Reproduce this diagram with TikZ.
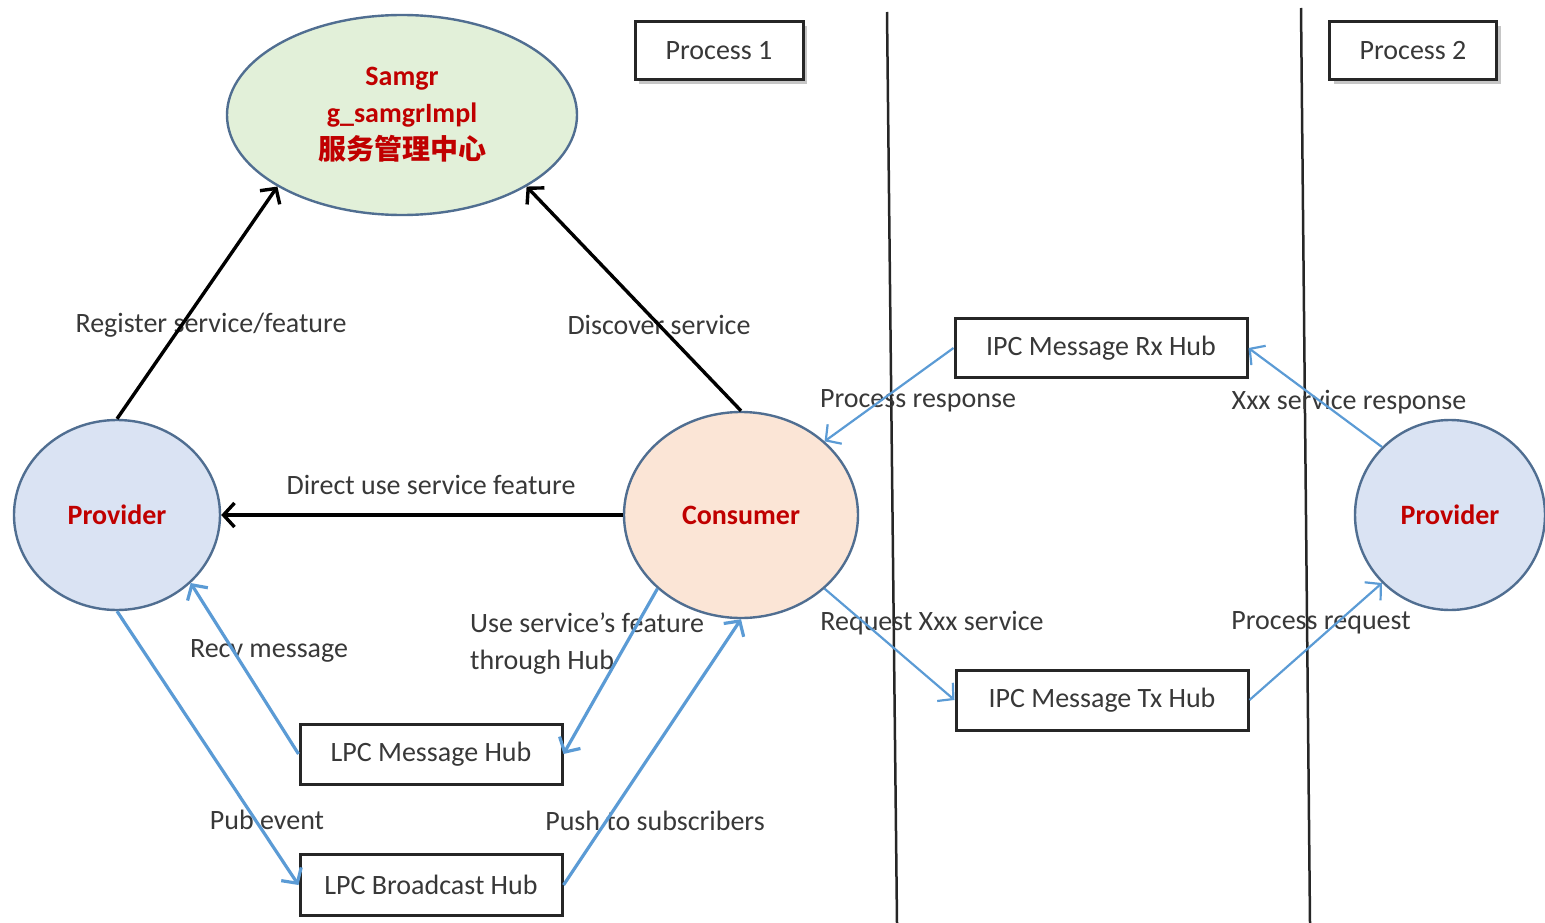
\documentclass[tikz,border=0pt]{standalone}
\usepackage{fontspec}
\setmainfont{Carlito}
\newfontfamily\cjk{Noto Sans CJK SC}
\usetikzlibrary{arrows.meta,shapes.geometric,shadows}
\definecolor{redtxt}{RGB}{192,0,0}
\definecolor{labtxt}{RGB}{56,56,56}
\definecolor{bluel}{RGB}{91,155,213}
\definecolor{edgec}{RGB}{80,110,145}
\definecolor{greenf}{RGB}{226,240,217}
\definecolor{bluef}{RGB}{218,227,243}
\definecolor{orangef}{RGB}{251,229,214}
\tikzset{
  bigfont/.style={font=\fontsize{28}{37}\selectfont},
  ell/.style={ellipse, draw=edgec, line width=2.4pt, inner sep=0pt, bigfont, text=redtxt, align=center},
  hub/.style={rectangle, draw=black!85, line width=3pt, inner sep=0pt, bigfont, text=labtxt},
  procbox/.style={hub, fill=white, drop shadow={shadow xshift=4pt, shadow yshift=-4pt, opacity=0.45}},
  lab/.style={bigfont, text=labtxt, inner sep=0pt},
  blk/.style={line width=3.4pt, black, -{Straight Barb[length=11pt,width=24pt,line width=3.4pt]}},
  blu/.style={line width=3.2pt, bluel, -{Straight Barb[length=11pt,width=24pt,line width=3.2pt]}},
  blut/.style={line width=2.2pt, bluel, -{Straight Barb[length=11pt,width=24pt,line width=2.2pt]}},
  sep/.style={line width=2.5pt, black!85}
}
\begin{document}
\begin{tikzpicture}[x=1pt,y=-1pt]
\useasboundingbox (0,0) rectangle (1545,923);
\clip (0,0) rectangle (1545,923);
% separators
\draw[sep] (887,12) -- (897,923);
\draw[sep] (1301,8) -- (1310,923);
% labels
\node[lab] (l1) at (211,325) {Register service/feature};
\node[lab] (l2) at (659,325) {Discover service};
\node[lab] (l3) at (431,485) {Direct use service feature};
\node[lab] (l4) at (269,651) {Recv message};
\node[lab, align=left, anchor=west] (l5) at (470,644) {Use service’s feature\\through Hub};
\node[lab] (l6) at (267,820) {Pub event};
\node[lab] (l7) at (655,821) {Push to subscribers};
\node[lab] (l8) at (918,401) {Process response};
\node[lab] (l9) at (932,623) {Request Xxx service};
\node[lab] (l10) at (1349,402) {Xxx service response};
\node[lab] (l11) at (1321,623) {Process request};
% nodes
\node[ell, fill=greenf, minimum width=350pt, minimum height=200pt] (samgr) at (402,115)
  {\bfseries Samgr\\\bfseries g\_samgrImpl\\{\cjk\bfseries 服务管理中心}};
\node[ell, fill=bluef, minimum width=206pt, minimum height=190pt] (prov) at (117,515) {\bfseries Provider};
\node[ell, fill=orangef, minimum width=234pt, minimum height=206pt] (cons) at (741,515) {\bfseries Consumer};
\node[ell, fill=bluef, minimum width=190pt, minimum height=190pt] (rprov) at (1450,515) {\bfseries Provider};
\node[procbox, minimum width=168pt, minimum height=58pt] (p1) at (719,51) {Process 1};
\node[procbox, minimum width=167pt, minimum height=58pt] (p2) at (1413,51) {Process 2};
\node[hub, minimum width=262pt, minimum height=60pt] (msg) at (431,754) {LPC Message Hub};
\node[hub, minimum width=262pt, minimum height=61pt] (bc) at (431,885) {LPC Broadcast Hub};
\node[hub, minimum width=292pt, minimum height=59pt] (rx) at (1101,348) {IPC Message Rx Hub};
\node[hub, minimum width=292pt, minimum height=60pt] (tx) at (1102,700) {IPC Message Tx Hub};
% connectors
\draw[blk] (prov.north) -- (samgr.south west);
\draw[blk] (cons.north) -- (samgr.south east);
\draw[blk] (cons.west) -- (prov.east);
\draw[blu] (msg.west) -- (prov.south east);
\draw[blu] (cons.south west) -- (msg.east);
\draw[blu] (prov.south) -- (bc.west);
\draw[blu] (bc.east) -- (cons.south);
\draw[blut] (rx.west) -- (cons.north east);
\draw[blut] (cons.south east) -- (tx.west);
\draw[blut] (rprov.north west) -- (rx.east);
\draw[blut] (tx.east) -- (rprov.south west);
\end{tikzpicture}
\end{document}
